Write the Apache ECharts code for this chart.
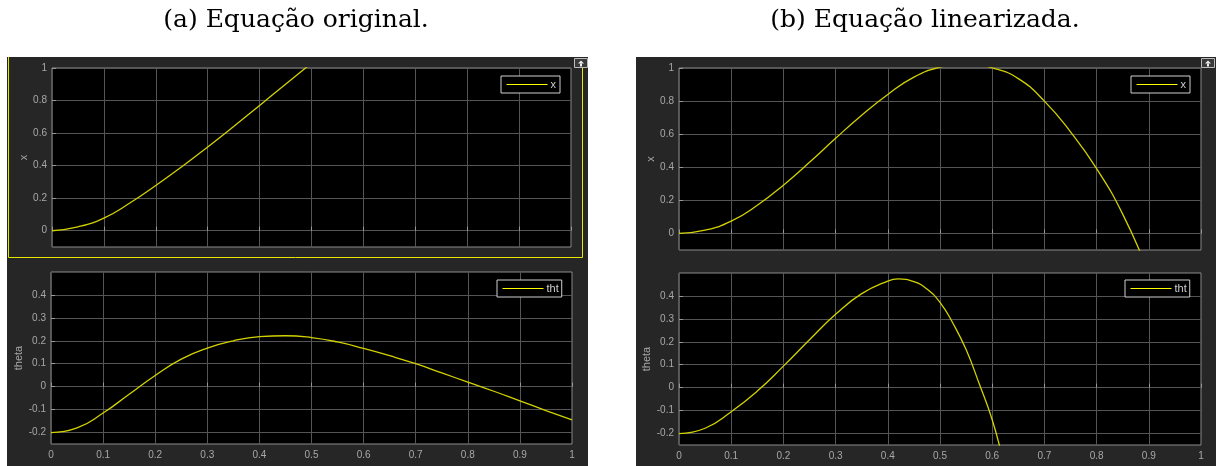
<!DOCTYPE html>
<html>
<head>
<meta charset="utf-8">
<title>Equação original vs linearizada</title>
<script src="https://cdn.jsdelivr.net/npm/echarts@6/dist/echarts.min.js"></script>
<style>
  html, body { margin: 0; padding: 0; background: #fff; }
  #main { width: 1216px; height: 466px; }
</style>
</head>
<body>
<div id="main"></div>
<script>
// valores
var titles = ['(a) Equação original.', '(b) Equação linearizada.'];
var yTicksX = [0, 0.2, 0.4, 0.6, 0.8, 1];
var yTicksTheta = [-0.2, -0.1, 0, 0.1, 0.2, 0.3, 0.4];

// (a) original
var tOrigX = [0, 0.05, 0.1, 0.15, 0.2, 0.25, 0.3, 0.35, 0.4, 0.45, 0.5];
var xOrig = [0, 0.024, 0.078, 0.17, 0.278, 0.393, 0.515, 0.641, 0.77, 0.9, 1.03];
var tOrigTheta = [0, 0.05, 0.1, 0.15, 0.2, 0.25, 0.3, 0.35, 0.4, 0.45, 0.5, 0.55, 0.6, 0.65, 0.7, 0.75, 0.8, 0.85, 0.9, 0.95, 1];
var thetaOrig = [-0.2, -0.18, -0.115, -0.033, 0.049, 0.12, 0.168, 0.2, 0.218, 0.222, 0.214, 0.195, 0.167, 0.135, 0.1, 0.06, 0.02, -0.02, -0.062, -0.104, -0.145];

// (b) linearizada
var tLinX = [0, 0.05, 0.1, 0.15, 0.2, 0.25, 0.3, 0.35, 0.4, 0.45, 0.5, 0.55, 0.6, 0.65, 0.7, 0.75, 0.8, 0.85, 0.9];
var xLin = [0, 0.02, 0.074, 0.17, 0.292, 0.43, 0.575, 0.715, 0.84, 0.945, 1.005, 1.026, 1.001, 0.936, 0.8, 0.614, 0.392, 0.117, -0.24];
var tLinTheta = [0, 0.05, 0.1, 0.15, 0.2, 0.25, 0.3, 0.35, 0.4, 0.42, 0.45, 0.475, 0.5, 0.525, 0.55, 0.575, 0.6, 0.62];
var thetaLin = [-0.2, -0.177, -0.105, -0.015, 0.094, 0.209, 0.32, 0.41, 0.465, 0.474, 0.462, 0.43, 0.372, 0.28, 0.166, 0.018, -0.14, -0.31];

function pairs(t, v) {
    return t.map(function (ti, i) { return [ti, v[i]]; });
}

var labelColor = '#a8a8a8';
var gridColor = '#555';
var lineColor = '#d2d200';
var sans = 'Liberation Sans';

var grids = [
    { left: 52, top: 68, width: 519, height: 179 },
    { left: 51, top: 272, width: 521, height: 172 },
    { left: 679, top: 68, width: 522, height: 182 },
    { left: 679, top: 273, width: 522, height: 172 }
];

function makeX(idx, showLabels) {
    return {
        type: 'value', gridIndex: idx, min: 0, max: 1, interval: 0.1,
        axisLine: { show: false },
        axisTick: { show: true, inside: true, length: 4, lineStyle: { color: '#999' } },
        axisLabel: { show: showLabels, color: labelColor, fontFamily: sans, fontSize: 10, margin: 6 },
        splitLine: { show: true, lineStyle: { color: gridColor, width: 1 } }
    };
}

function makeY(idx, min, max, ticks, name, gap) {
    return {
        type: 'value', gridIndex: idx, min: min, max: max,
        name: name, nameLocation: 'middle', nameGap: gap, nameRotate: 90,
        nameTextStyle: { color: labelColor, fontFamily: sans, fontSize: 11 },
        axisLine: { show: false },
        axisTick: { show: true, inside: true, length: 4, customValues: ticks, lineStyle: { color: '#999' } },
        axisLabel: { color: labelColor, fontFamily: sans, fontSize: 10, margin: 5, customValues: ticks },
        splitLine: { show: true, lineStyle: { color: gridColor, width: 1 } }
    };
}

function makeLegend(name, left, top, textPad) {
    return {
        data: [{
            name: name,
            lineStyle: { color: '#ffff00', width: 1 },
            itemStyle: { color: 'rgba(0,0,0,0)', borderWidth: 0, opacity: 0 }
        }],
        left: left, top: top,
        orient: 'horizontal',
        backgroundColor: '#000',
        borderColor: '#cfcfcf', borderWidth: 1, borderRadius: 0,
        padding: [3, textPad, 3, 5],
        itemWidth: 41, itemHeight: 12,
        selectedMode: false,
        textStyle: { color: '#cfcfcf', fontFamily: sans, fontSize: 11, padding: [0, 0, 0, -2] }
    };
}

function expandButton(x, y) {
    return {
        type: 'group', z: 100,
        children: [
            { type: 'rect', shape: { x: x, y: y, width: 13, height: 9 }, style: { fill: '#3a3a3a', stroke: '#bbb', lineWidth: 1 } },
            { type: 'polygon', shape: { points: [[x + 6.5, y + 2], [x + 3.5, y + 5], [x + 9.5, y + 5]] }, style: { fill: '#eee' } },
            { type: 'rect', shape: { x: x + 5.5, y: y + 5, width: 2, height: 3 }, style: { fill: '#eee' } }
        ]
    };
}

var chart = echarts.init(document.getElementById('main'), null, { renderer: 'canvas' });

var option = {
    animation: false,
    backgroundColor: '#fff',
    graphic: [
        { type: 'rect', z: -10, shape: { x: 7, y: 57, width: 581, height: 409 }, style: { fill: '#262626' } },
        { type: 'rect', z: -10, shape: { x: 636, y: 57, width: 580, height: 409 }, style: { fill: '#262626' } },
        { type: 'polyline', z: 100, shape: { points: [[8.5, 57], [8.5, 257.5], [582.5, 257.5], [582.5, 68]] }, style: { stroke: '#e6e600', lineWidth: 1, fill: null } },
        expandButton(574.5, 58.5),
        expandButton(1201.5, 58.5),
        { type: 'text', z: 100, x: 296, y: 20, style: { text: titles[0], font: '25px "DejaVu Serif"', fill: '#000', textAlign: 'center', textVerticalAlign: 'middle' } },
        { type: 'text', z: 100, x: 925, y: 20, style: { text: titles[1], font: '25px "DejaVu Serif"', fill: '#000', textAlign: 'center', textVerticalAlign: 'middle' } }
    ],
    grid: grids.map(function (g) {
        return Object.assign({ show: true, backgroundColor: '#000', borderColor: '#8c8c8c', borderWidth: 1 }, g);
    }),
    xAxis: [makeX(0, false), makeX(1, true), makeX(2, false), makeX(3, true)],
    yAxis: [
        makeY(0, -0.1, 1, yTicksX, 'x', 19),
        makeY(1, -0.25, 0.5, yTicksTheta, 'theta', 23),
        makeY(2, -0.1, 1, yTicksX, 'x', 20),
        makeY(3, -0.25, 0.5, yTicksTheta, 'theta', 23)
    ],
    legend: [
        makeLegend('x', 501, 76, 4),
        makeLegend('tht', 497, 280, 3),
        makeLegend('x', 1131, 76, 4),
        makeLegend('tht', 1125, 280, 3)
    ],
    series: [
        { name: 'x', type: 'line', xAxisIndex: 0, yAxisIndex: 0, data: pairs(tOrigX, xOrig) },
        { name: 'tht', type: 'line', xAxisIndex: 1, yAxisIndex: 1, data: pairs(tOrigTheta, thetaOrig) },
        { name: 'x', type: 'line', xAxisIndex: 2, yAxisIndex: 2, data: pairs(tLinX, xLin) },
        { name: 'tht', type: 'line', xAxisIndex: 3, yAxisIndex: 3, data: pairs(tLinTheta, thetaLin) }
    ].map(function (s) {
        return Object.assign({
            symbol: 'none', smooth: 0.5, clip: true,
            lineStyle: { color: lineColor, width: 1.3 },
            itemStyle: { color: lineColor }
        }, s);
    })
};

chart.setOption(option);
</script>
</body>
</html>
